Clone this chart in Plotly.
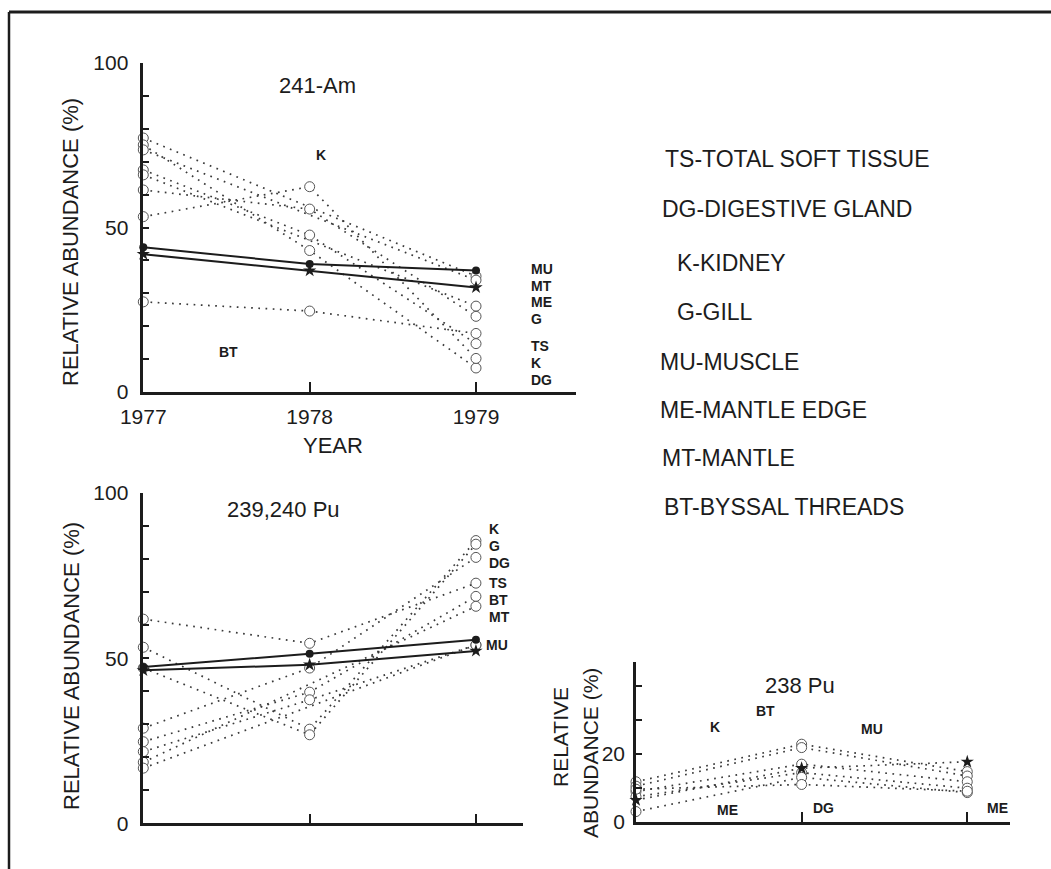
import plotly.graph_objects as go

W, H = 1051, 869
years = [1977, 1978, 1979]
year_labels = ["1977", "1978", "1979"]

# ---- 241-Am (top panel) ----
am_mu = [44.0, 38.9, 36.9]
am_star = [41.9, 36.9, 31.8]
am_d1 = [77.2, None, 35.2]
am_d2 = [75.1, 43.0, 7.3]
am_d3 = [73.6, None, 34.0]
am_d4 = [67.5, 47.7, 14.7]
am_d5 = [66.0, None, 26.1]
am_d6 = [61.4, 55.6, 23.0]
am_d7 = [53.3, 62.4, 10.2]
am_d8 = [27.4, 24.6, 17.8]
am_right_labels = ["MU", "MT", "ME", "G", "TS", "K", "DG"]

# ---- 239,240 Pu (bottom-left panel) ----
pu_mu = [47.3, 51.3, 55.6]
pu_star = [46.3, 48.0, 52.2]
pu_d1 = [61.8, 54.5, 72.7]
pu_d2 = [53.3, 28.5, 85.6]
pu_d3 = [47.0, 26.8, 84.5]
pu_d4 = [28.8, 47.0, 80.5]
pu_d5 = [24.7, 39.7, 68.7]
pu_d6 = [21.7, 37.4, 54.0]
pu_d7 = [18.5, None, 65.7]
pu_d8 = [16.7, None, 54.0]
pu_right_labels = ["K", "G", "DG", "TS", "BT", "MT", "MU"]

# ---- 238 Pu (bottom-right panel) ----
p8_star = [6.4, 15.8, 17.7]
p8_d1 = [11.8, 22.9, 14.8]
p8_d2 = [10.5, 21.9, 13.5]
p8_d3 = [8.9, 17.0, 11.8]
p8_d4 = [7.4, 14.5, 9.9]
p8_d5 = [3.0, 13.1, 8.6]
p8_d6 = [9.6, 11.0, 9.0]

legend_lines = [
    "TS-TOTAL SOFT TISSUE",
    "DG-DIGESTIVE GLAND",
    "K-KIDNEY",
    "G-GILL",
    "MU-MUSCLE",
    "ME-MANTLE EDGE",
    "MT-MANTLE",
    "BT-BYSSAL THREADS",
]

INK = "#1c1c1c"
DOT = "#3a3a3a"
FONT = "Liberation Sans, Arial, sans-serif"


def px(x):
    return x / W


def py(y):
    return 1 - y / H


fig = go.Figure()


def dotted(y, xa, ya):
    fig.add_trace(go.Scatter(
        x=years, y=y, xaxis=xa, yaxis=ya, mode="lines+markers",
        connectgaps=True, cliponaxis=False, showlegend=False,
        line=dict(color=DOT, width=1.7, dash="1.7px,5.5px"),
        marker=dict(symbol="circle", size=10, color="white",
                    line=dict(width=1, color="#555")),
    ))


def solid(y, xa, ya, symbol, size):
    fig.add_trace(go.Scatter(
        x=years, y=y, xaxis=xa, yaxis=ya, mode="lines+markers",
        cliponaxis=False, showlegend=False,
        line=dict(color=INK, width=2),
        marker=dict(symbol=symbol, size=size, color=INK),
    ))


for s in [am_d1, am_d2, am_d3, am_d4, am_d5, am_d6, am_d7, am_d8]:
    dotted(s, "x", "y")
solid(am_mu, "x", "y", "circle", 8)
solid(am_star, "x", "y", "star", 10)

for s in [pu_d1, pu_d2, pu_d3, pu_d4, pu_d5, pu_d6, pu_d7, pu_d8]:
    dotted(s, "x2", "y2")
solid(pu_mu, "x2", "y2", "circle", 8)
solid(pu_star, "x2", "y2", "star", 10)

for s in [p8_d1, p8_d2, p8_d3, p8_d4, p8_d5, p8_d6]:
    dotted(s, "x3", "y3")
fig.add_trace(go.Scatter(
    x=years, y=p8_star, xaxis="x3", yaxis="y3", mode="lines+markers",
    cliponaxis=False, showlegend=False,
    line=dict(color=DOT, width=1.7, dash="1.7px,5.5px"),
    marker=dict(symbol="star", size=10, color=INK),
))

tickfont = dict(family=FONT, size=21, color=INK)


def xax(dom, rng, anchor, labels):
    return dict(
        domain=dom, range=rng, anchor=anchor, showgrid=False, zeroline=False,
        showline=True, linecolor=INK, linewidth=2.5, automargin=False,
        tickmode="array", tickvals=years,
        ticktext=year_labels if labels else ["", "", ""],
        ticks="inside", ticklen=10, tickwidth=1.5, tickcolor=INK,
        tickfont=tickfont, ticklabelstandoff=4,
    )


def yax(dom, rng, anchor, vals, text, standoff=8):
    return dict(
        domain=dom, range=rng, anchor=anchor, showgrid=False, zeroline=False,
        showline=True, linecolor=INK, linewidth=2.5, automargin=False,
        tickmode="array", tickvals=vals, ticktext=text,
        ticks="inside", ticklen=6, tickwidth=1.5, tickcolor=INK,
        tickfont=tickfont, ticklabelstandoff=standoff,
    )


ten_vals = [0, 10, 20, 30, 40, 50, 60, 70, 80, 90, 100]
ten_text = ["0", "", "", "", "", "50", "", "", "", "", "100"]

fig.update_layout(
    width=W, height=H, autosize=False,
    margin=dict(l=0, r=0, t=0, b=0, pad=0, autoexpand=False),
    paper_bgcolor="white", plot_bgcolor="rgba(0,0,0,0)",
    font=dict(family=FONT, color=INK),
    xaxis=xax([px(143.3), px(576)], [1977, 1979.601], "y", True),
    yaxis=yax([py(392), py(63)], [0, 100], "x", ten_vals, ten_text),
    xaxis2=xax([px(143.3), px(523)], [1977, 1979.283], "y2", False),
    yaxis2=yax([py(823.3), py(493)], [0, 100], "x2", ten_vals, ten_text),
    xaxis3=xax([px(636), px(1010)], [1977, 1979.258], "y3", False),
    yaxis3=yax([py(821.7), py(661.7)], [0, 47.27], "x3",
               [0, 10, 20, 30, 40], ["0", "", "20", "", ""], standoff=4),
)

ann = []


def text(x, y, s, size=14, bold=False, xanchor="center", angle=0):
    ann.append(dict(
        x=px(x), y=py(y), xref="paper", yref="paper", text=(f"<b>{s}</b>" if bold else s),
        showarrow=False, xanchor=xanchor, yanchor="middle", textangle=angle,
        font=dict(family=FONT, size=size, color=INK),
    ))


# Top panel text
text(317, 85, "241-Am", size=22)
text(321, 155, "K", bold=True)
text(228, 352, "BT", bold=True)
for lab, yy in zip(am_right_labels, [269, 286, 302, 319, 346, 363, 380]):
    text(529, yy, lab, bold=True, xanchor="left")
text(333, 445, "YEAR", size=22)
text(71, 242, "RELATIVE ABUNDANCE (%)", size=22, angle=-90)

# Bottom-left text
text(283, 509, "239,240 Pu", size=22)
for lab, yy in zip(pu_right_labels, [529, 546, 563, 583, 600, 617, 645]):
    text(484 if lab == "MU" else 487, yy, lab, bold=True, xanchor="left")
text(71, 666, "RELATIVE ABUNDANCE (%)", size=22, angle=-90)

# Bottom-right text
text(800, 685, "238 Pu", size=22)
text(715, 727, "K", bold=True)
text(765, 711, "BT", bold=True)
text(872, 729, "MU", bold=True)
text(727, 810, "ME", bold=True)
text(823, 808, "DG", bold=True)
text(997, 808, "ME", bold=True)
text(560, 737, "RELATIVE", size=21, angle=-90)
text(590, 753, "ABUNDANCE (%)", size=21, angle=-90)

# Legend text
for lab, (lx, ly) in zip(legend_lines, [(663, 159), (660, 209), (675, 263), (675, 312),
                                        (658, 362), (658, 410), (660, 458), (662, 507)]):
    text(lx, ly, lab, size=23, xanchor="left")

fig.update_layout(annotations=ann)

# Frame lines
fig.add_shape(type="line", xref="paper", yref="paper",
              x0=px(9), y0=py(12), x1=px(1051), y1=py(12),
              line=dict(color=INK, width=3))
fig.add_shape(type="line", xref="paper", yref="paper",
              x0=px(9), y0=py(12), x1=px(9), y1=py(869),
              line=dict(color=INK, width=2.5))

fig.write_html(
    "out.html",
    post_script="document.body.style.margin='0';document.body.style.padding='0';"
                "document.body.style.overflow='hidden';",
)
